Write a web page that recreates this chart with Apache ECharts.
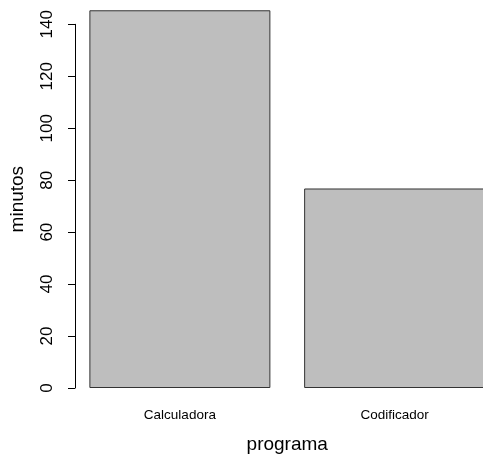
<!DOCTYPE html>
<html>
<head>
<meta charset="utf-8">
<script src="https://cdn.jsdelivr.net/npm/echarts@6/dist/echarts.min.js"></script>
<style>
html,body{margin:0;padding:0;background:#fff;overflow:hidden;}
#wrap{width:483px;height:459px;overflow:hidden;}
#chart{width:520px;height:459px;}
</style>
</head>
<body>
<div id="wrap"><div id="chart"></div></div>
<script>
var categories = ["Calculadora", "Codificador"];
var minutos = [145.4, 76.8];
var yTicks = [0, 20, 40, 60, 80, 100, 120, 140];

var chart = echarts.init(document.getElementById('chart'), null, {renderer: 'canvas'});
var font = 'Liberation Sans, Arial, Helvetica, sans-serif';
chart.setOption({
  animation: false,
  backgroundColor: '#ffffff',
  grid: {left: 70, top: 24.3, width: 432, height: 364, containLabel: false},
  xAxis: {
    type: 'category',
    data: categories,
    name: 'programa',
    nameLocation: 'middle',
    nameGap: 47,
    nameTextStyle: {fontFamily: font, fontSize: 19, color: '#000'},
    axisLine: {show: false},
    axisTick: {show: false},
    axisLabel: {fontFamily: font, fontSize: 13.5, color: '#000', margin: 20}
  },
  yAxis: {
    type: 'value',
    min: yTicks[0],
    max: yTicks[yTicks.length - 1],
    interval: 20,
    offset: -2.5,
    name: 'minutos',
    nameLocation: 'middle',
    nameRotate: 90,
    nameGap: 48,
    nameTextStyle: {fontFamily: font, fontSize: 19, color: '#000', padding: [0, 0, 0, 14]},
    splitLine: {show: false},
    axisLine: {show: true, lineStyle: {color: '#000', width: 1}},
    axisTick: {show: true, length: 7, lineStyle: {color: '#000', width: 1}},
    axisLabel: {fontFamily: font, fontSize: 17, color: '#000', rotate: 90, margin: 19}
  },
  series: [{
    type: 'bar',
    data: minutos,
    barWidth: 181,
    clip: false,
    itemStyle: {color: '#bebebe', borderColor: '#333', borderWidth: 1}
  }]
});
</script>
</body>
</html>
